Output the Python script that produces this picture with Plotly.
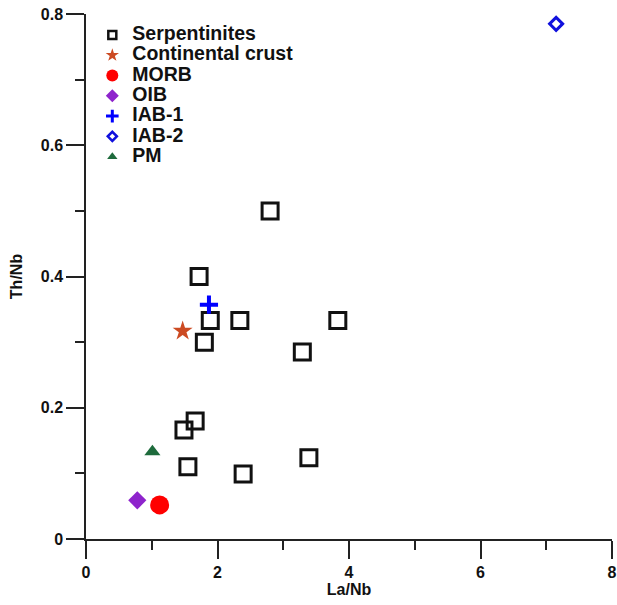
import plotly.graph_objects as go

# Serpentinite samples
serp_la_nb = [2.80, 1.72, 1.89, 2.34, 1.80, 3.83, 3.29, 1.66, 1.49, 1.55, 2.39, 3.39]
serp_th_nb = [0.500, 0.400, 0.333, 0.333, 0.300, 0.333, 0.285, 0.180, 0.166, 0.110, 0.099, 0.124]

# Reference compositions
ref_names = ["Continental crust", "MORB", "OIB", "IAB-1", "IAB-2", "PM"]
ref_la_nb = [1.47, 1.12, 0.78, 1.87, 7.15, 1.01]
ref_th_nb = [0.317, 0.052, 0.059, 0.357, 0.785, 0.133]

x_ticks = [0, 2, 4, 6, 8]
y_ticks = [0, 0.2, 0.4, 0.6, 0.8]

FONT = "Liberation Sans, Arial, sans-serif"

styles = {
    "Serpentinites": dict(symbol="square-open", color="#111111", size=16, lw=3, lsize=8, llw=2.5),
    "Continental crust": dict(symbol="star", color="#cc4a22", size=15, lw=0, lsize=10, llw=0),
    "MORB": dict(symbol="circle", color="#ff0000", size=19, lw=0, lsize=12, llw=0),
    "OIB": dict(symbol="diamond", color="#8e24cc", size=14, lw=0, lsize=10, llw=0),
    "IAB-1": dict(symbol="cross-thin", color="#0000ff", size=13, lw=4, lsize=9, llw=3),
    "IAB-2": dict(symbol="diamond-open", color="#1010dd", size=10, lw=3, lsize=7, llw=2.5),
    "PM": dict(symbol="triangle-up", color="#1e6b3c", size=14, lw=0, lsize=9, llw=0),
}

fig = go.Figure()

def add(name, xs, ys):
    s = styles[name]
    fig.add_trace(go.Scatter(
        x=xs, y=ys, mode="markers", name=name, showlegend=False,
        marker=dict(symbol=s["symbol"], size=s["size"], color=s["color"],
                    line=dict(width=s["lw"], color=s["color"])),
    ))
    # legend entry with smaller symbol; larger text inside a compact row
    fig.add_trace(go.Scatter(
        x=[None], y=[None], mode="markers",
        name="<span style='font-size:19.5px'>" + name + "</span>", showlegend=True,
        marker=dict(symbol=s["symbol"], size=s["lsize"], color=s["color"],
                    line=dict(width=s["llw"], color=s["color"])),
    ))

add("Serpentinites", serp_la_nb, serp_th_nb)
for n, xv, yv in zip(ref_names, ref_la_nb, ref_th_nb):
    add(n, [xv], [yv])

axis_common = dict(
    showgrid=False, zeroline=False, showline=True, linecolor="#222222", linewidth=1.5,
    ticks="outside", ticklen=18, tickwidth=1.5, tickcolor="#222222", automargin=False,
    tickfont=dict(family=FONT, size=16, color="#111111", weight="bold"),
    minor=dict(ticks="outside", ticklen=9, tickwidth=1.5, tickcolor="#222222"),
)

fig.update_xaxes(
    range=[0, 8], tickvals=x_ticks, ticktext=[str(v) for v in x_ticks],
    minor_dtick=1, minor_tick0=0,
    title=dict(text="<b>La/Nb</b>", font=dict(family=FONT, size=16, color="#111111"), standoff=4),
    **axis_common,
)
fig.update_yaxes(
    range=[0, 0.8], tickvals=y_ticks, ticktext=["0", "0.2", "0.4", "0.6", "0.8"],
    minor_dtick=0.1, minor_tick0=0,
    title=dict(text="<b>Th/Nb</b>", font=dict(family=FONT, size=16, color="#111111"), standoff=14),
    **axis_common,
)

fig.update_layout(
    width=617, height=605,
    margin=dict(l=86, r=5, t=14, b=66),
    paper_bgcolor="white", plot_bgcolor="white",
    legend=dict(
        x=0.012, y=0.989, xanchor="left", yanchor="top",
        font=dict(family=FONT, size=13.3, color="#111111", weight="bold"),
        bgcolor="rgba(0,0,0,0)", tracegroupgap=0, itemwidth=30,
    ),
)

fig.write_html("out.html")
